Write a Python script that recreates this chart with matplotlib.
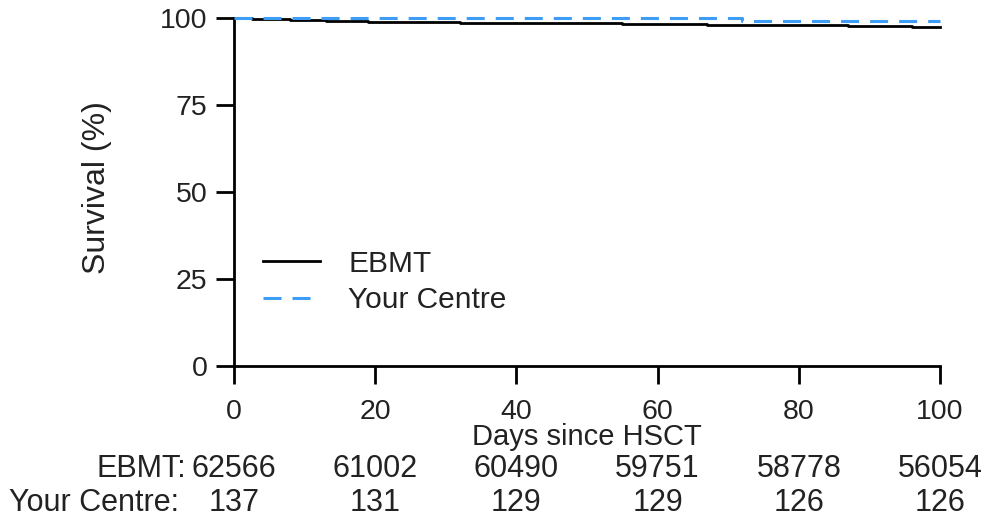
import matplotlib
matplotlib.use("Agg")
import matplotlib.pyplot as plt
import matplotlib.transforms as mtransforms

# --- data ---
ebmt_days = [0, 2.5, 8, 13, 19, 24, 32, 43, 55, 67, 78, 87, 96, 100]
ebmt_surv = [100, 99.7, 99.4, 99.1, 98.9, 98.8, 98.7, 98.5, 98.3, 98.1, 97.9, 97.7, 97.5, 97.5]
centre_days = [0, 72, 100]
centre_surv = [100, 99.2, 99.2]

x_ticks = [0, 20, 40, 60, 80, 100]
y_ticks = [0, 25, 50, 75, 100]
risk_ebmt = [62566, 61002, 60490, 59751, 58778, 56054]
risk_centre = [137, 131, 129, 129, 126, 126]

TXT = "#222222"
BLUE = "#3D9DF5"
W, H = 984, 524

plt.rcParams["font.family"] = ["Liberation Sans", "DejaVu Sans"]
plt.rcParams["text.color"] = TXT

fig = plt.figure(figsize=(W / 100, H / 100), dpi=100)
ax = fig.add_axes([234 / W, 1 - 366 / H, (940 - 234) / W, (366 - 18) / H])

ax.step(ebmt_days, ebmt_surv, where="post", color="black", lw=2.0,
        label="EBMT", clip_on=False, zorder=3)
ln, = ax.step(centre_days, centre_surv, where="post", color=BLUE, lw=2.2,
              label="Your Centre", clip_on=False, zorder=4)
ln.set_dashes((5.9, 3.6))

ax.set_xlim(0, 100)
ax.set_ylim(0, 100)
ax.set_xticks(x_ticks)
ax.set_yticks(y_ticks)
for s in ["top", "right"]:
    ax.spines[s].set_visible(False)
for s in ["left", "bottom"]:
    ax.spines[s].set_linewidth(2)
ax.tick_params(axis="both", direction="out", length=13, width=2,
               labelsize=20.5, labelcolor=TXT)
ax.tick_params(axis="x", pad=11)
ax.tick_params(axis="y", pad=6)

# axis titles
fig.text(97 / W, 1 - 188 / H, "Survival (%)", rotation=90, ha="center",
         va="center", fontsize=23)
fig.text(587 / W, 1 - 437 / H, "Days since HSCT", ha="center", va="center",
         fontsize=21)

leg = ax.legend(loc="center left", bbox_to_anchor=(263 / W, 1 - 282 / H),
                bbox_transform=fig.transFigure, frameon=False, fontsize=21.5,
                borderpad=0, borderaxespad=0, handlelength=1.9,
                handletextpad=0.95, labelspacing=0.3)

# numbers at risk
tr = mtransforms.blended_transform_factory(ax.transData, fig.transFigure)
row_y = [1 - 469 / H, 1 - 503 / H]
for xv, a, b in zip(x_ticks, risk_ebmt, risk_centre):
    ax.text(xv, row_y[0], str(a), transform=tr, ha="center", va="center",
            fontsize=22)
    ax.text(xv, row_y[1], str(b), transform=tr, ha="center", va="center",
            fontsize=22)
fig.text(186 / W, row_y[0], "EBMT:", ha="right", va="center", fontsize=22)
fig.text(179 / W, row_y[1], "Your Centre:", ha="right", va="center", fontsize=22)

fig.savefig("out.png", dpi=100)
